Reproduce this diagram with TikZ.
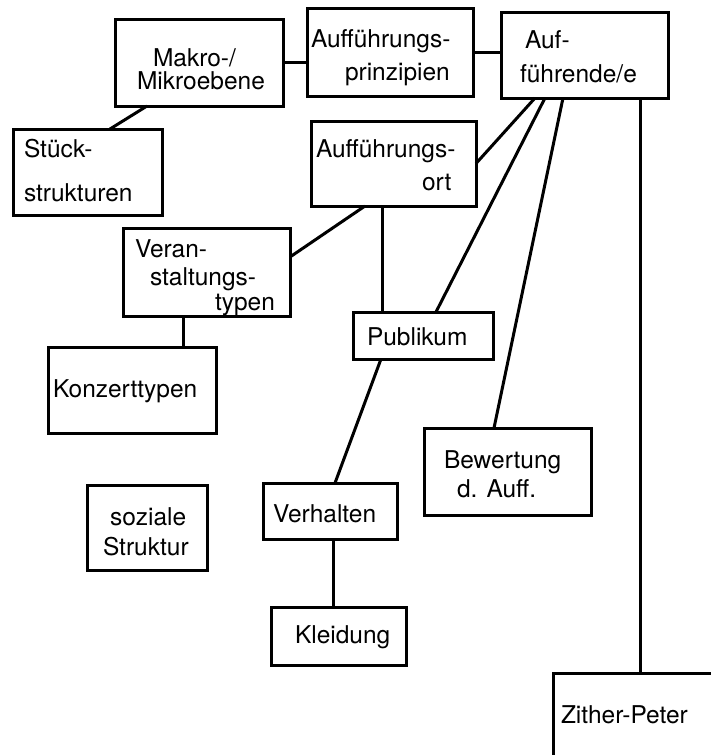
\documentclass[tikz,border=0pt]{standalone}
\usepackage{fontspec}
\setmainfont{TeX Gyre Heros}
\begin{document}
\begin{tikzpicture}[x=1pt,y=-1pt,
  box/.style={draw,line width=3pt,rectangle,inner sep=0pt,outer sep=0pt},
  txt/.style={anchor=base west,inner sep=0pt,outer sep=0pt,font=\fontsize{24.5}{29}\selectfont},
  conn/.style={line width=3pt}]
\useasboundingbox (0,0) rectangle (711,755);
\clip (0,0) rectangle (711,755);
% boxes
\node[box,minimum width=168pt,minimum height=87pt] (makro) at (199,62.5) {};
\node[box,minimum width=149pt,minimum height=86pt] (stueck) at (87.5,172) {};
\node[box,minimum width=166pt,minimum height=88pt] (prinz) at (390,52) {};
\node[box,minimum width=167pt,minimum height=86pt] (auf) at (584.5,55) {};
\node[box,minimum width=165pt,minimum height=85pt] (ort) at (393.5,163.5) {};
\node[box,minimum width=167pt,minimum height=88pt] (veran) at (206.5,272) {};
\node[box,minimum width=140pt,minimum height=47pt] (publ) at (423,335.5) {};
\node[box,minimum width=168pt,minimum height=86pt] (konz) at (132,390) {};
\node[box,minimum width=167pt,minimum height=87pt] (bew) at (507.5,471.5) {};
\node[box,minimum width=120pt,minimum height=85pt] (soz) at (147,527.5) {};
\node[box,minimum width=134pt,minimum height=56pt] (verh) at (330,511) {};
\node[box,minimum width=135pt,minimum height=58pt] (kleid) at (338.5,636) {};
\node[box,minimum width=170pt,minimum height=100pt] (zither) at (638,723) {};
% texts
\node[txt] (l1) at (153,66) {Makro-/};
\node[txt] (l2) at (137,89) {Mikroebene};
\node[txt] (l3) at (24,157) {Stück-};
\node[txt] (l4) at (24,201) {strukturen};
\node[txt] (l5) at (311,47) {Aufführungs-};
\node[txt] (l6) at (345,80) {prinzipien};
\node[txt] (l7) at (525,48) {Auf-};
\node[txt] (l8) at (520,82) {führende/e};
\node[txt] (l9) at (316,157) {Aufführungs-};
\node[txt] (l10) at (422,190) {ort};
\node[txt] (l11) at (135,257) {Veran-};
\node[txt] (l12) at (150,285) {staltungs-};
\node[txt] (l13) at (215,310) {typen};
\node[txt] (l14) at (53,397) {Konzerttypen};
\node[txt] (l15) at (367,345) {Publikum};
\node[txt] (l16) at (444,468) {Bewertung};
\node[txt] (l17) at (457,497) {d. Auff.};
\node[txt] (l18) at (110,525) {soziale};
\node[txt] (l19) at (103,555) {Struktur};
\node[txt] (l20) at (273,522) {Verhalten};
\node[txt] (l21) at (295,643) {Kleidung};
\node[txt] (l22) at (561,723) {Zither-Peter};
% connectors
\draw[conn] ([xshift=32pt]makro.south west) -- ([xshift=97pt]stueck.north west);
\draw[conn] (makro.east) -- (makro.east -| prinz.west);
\draw[conn] (prinz.east) -- (prinz.east -| auf.west);
\draw[conn] ([xshift=34pt]auf.south west) -- (ort.east);
\draw[conn] ([xshift=44pt]auf.south west) -- ([xshift=83pt]publ.north west);
\draw[conn] ([xshift=62pt]auf.south west) -- ([xshift=70pt]bew.north west);
\draw[conn] ([xshift=139pt]auf.south west) coordinate (za) -- (za |- zither.north);
\draw[conn] ([xshift=54pt]ort.south west) -- ([yshift=-29pt]veran.north east);
\draw[conn] ([xshift=71pt]ort.south west) coordinate (oa) -- (oa |- publ.north);
\draw[conn] ([xshift=60pt]veran.south west) coordinate (va) -- (va |- konz.north);
\draw[conn] ([xshift=28pt]publ.south west) -- ([xshift=72pt]verh.north west);
\draw[conn] ([xshift=70pt]verh.south west) coordinate (ha) -- (ha |- kleid.north);
\end{tikzpicture}
\end{document}
